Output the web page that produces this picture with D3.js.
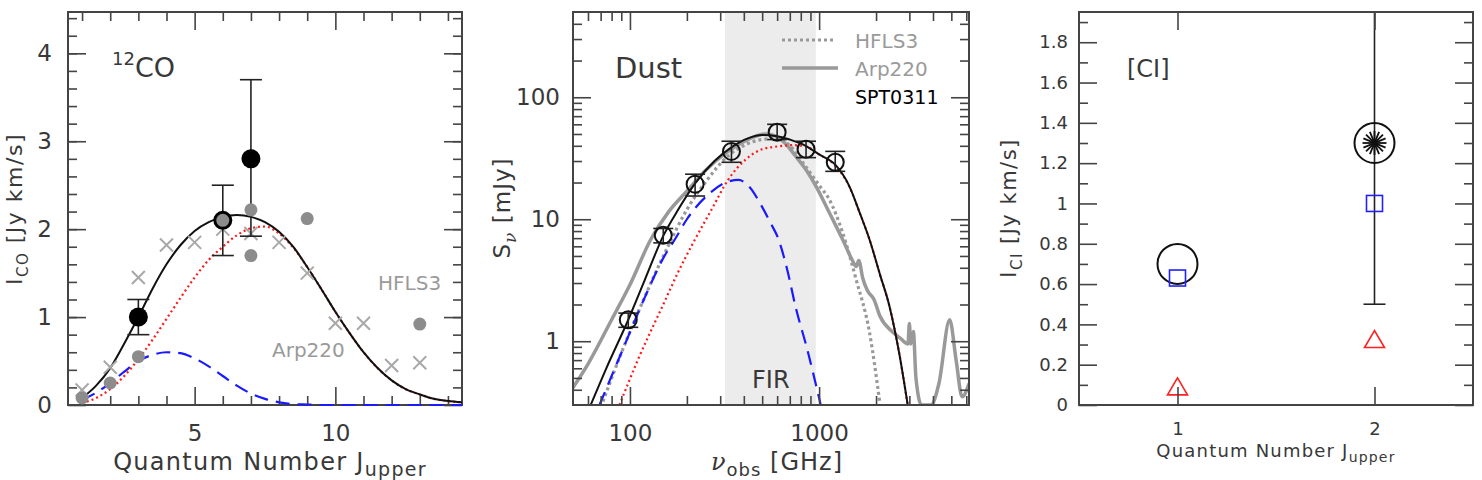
<!DOCTYPE html>
<html>
<head>
<meta charset="utf-8">
<script src="https://cdn.jsdelivr.net/npm/d3@7/dist/d3.min.js"></script>
<style>
  body { margin: 0; background: #fff; }
  text { font-family: "DejaVu Sans", sans-serif; fill: #383838; }
</style>
</head>
<body>
<script>
// ---------- panel 1 : 12CO SLED ----------
var coSptJ = [3, 6, 7];
var coSpt = [1.0, 2.1, 2.8];
var coSptLo = [0.8, 1.7, 1.92];
var coSptHi = [1.2, 2.5, 3.7];
var coHflsJ = [1, 2, 3, 6, 7, 7, 9, 13];
var coHfls = [0.08, 0.25, 0.55, 2.1, 2.22, 1.7, 2.12, 0.92];
var coArpJ = [1, 2, 3, 4, 5, 6, 7, 8, 9, 10, 11, 12, 13];
var coArp = [0.17, 0.43, 1.45, 1.82, 1.85, 2.0, 1.95, 1.85, 1.5, 0.93, 0.93, 0.45, 0.48];
var modelJ = [1, 1.5, 2, 2.5, 3, 3.5, 4, 4.5, 5, 5.5, 6, 6.5, 7, 7.5, 8, 8.5, 9, 9.5, 10, 10.5, 11, 11.5, 12, 12.5, 13, 13.5, 14, 14.5];
var coTotal = [0.08, 0.22, 0.42, 0.7, 1.0, 1.32, 1.6, 1.82, 1.98, 2.08, 2.14, 2.16, 2.14, 2.08, 1.97, 1.8, 1.57, 1.32, 1.06, 0.82, 0.6, 0.42, 0.28, 0.18, 0.12, 0.07, 0.045, 0.03];
var coWarm = [0.02, 0.08, 0.18, 0.33, 0.52, 0.74, 0.98, 1.22, 1.45, 1.65, 1.8, 1.93, 2.01, 2.03, 1.95, 1.79, 1.57, 1.32, 1.06, 0.82, 0.6, 0.42, 0.28, 0.18, 0.12, 0.07, 0.045, 0.03];
var coCold = [0.06, 0.14, 0.25, 0.38, 0.5, 0.57, 0.6, 0.59, 0.53, 0.44, 0.33, 0.22, 0.13, 0.07, 0.03, 0.01, 0.005, 0, 0, 0, 0, 0, 0, 0, 0, 0, 0, 0];

// ---------- panel 2 : dust SED ----------
var dustNu = [98, 150, 221, 344, 600, 853, 1217];
var dustS = [1.5, 7.4, 19.4, 36, 51.6, 37.5, 29.3];
var dustLo = [1.3, 6.4, 15.5, 29.3, 45, 32, 24.7];
var dustHi = [1.7, 8.4, 23.4, 43.6, 60, 43.6, 36];
var fitNu = [62, 75, 98, 120, 150, 180, 220, 280, 345, 420, 500, 600, 700, 850, 1000, 1217, 1444, 1650, 1845, 2100, 2356, 2650, 2940];
var fitS = [0.3, 0.6, 1.5, 3.2, 7.3, 12, 19.5, 30, 39, 46, 49, 48, 45, 40, 34, 28, 18.7, 11, 6.85, 3.5, 1.93, 0.8, 0.3];
var warmNu = [88, 110, 150, 180, 221, 270, 330, 410, 500, 610, 720, 850, 1000, 1217, 1444, 1650, 1845, 2100, 2356, 2650, 2940];
var warmS = [0.3, 0.7, 2.0, 3.7, 6.85, 12, 21, 31, 37.5, 39.6, 40.5, 39.6, 34, 27.5, 18.5, 11, 6.85, 3.5, 1.93, 0.8, 0.3];
var coldNu = [69, 90, 120, 150, 173, 200, 260, 320, 375, 424, 497, 550, 610, 680, 750, 865, 1020];
var coldS = [0.3, 0.8, 2.3, 4.8, 6.85, 10, 16, 20, 21, 18.7, 12.8, 9.5, 6.85, 3.8, 1.93, 0.86, 0.3];
var hflsNu = [72, 90, 110, 159, 200, 250, 330, 410, 497, 610, 700, 850, 1000, 1130, 1330, 1570, 1845, 2090];
var hflsS = [0.32, 0.8, 1.7, 6, 12, 20, 33, 41, 45, 46, 40, 27, 19, 14.6, 7.8, 3.2, 1.19, 0.32];
var arpNu = [48, 60, 80, 100, 129, 160, 200, 250, 330, 420, 520, 590, 680, 750, 860, 962, 1130, 1330, 1500, 1570, 1620, 1700, 1800, 1950, 2100, 2430, 2700, 2950, 3000, 3050, 3150, 3250, 3480, 3900, 4300, 4900, 5300, 5700, 6200];
var arpS = [0.38, 0.65, 1.5, 2.9, 6.85, 11.5, 17, 25, 36, 45, 50, 48, 40, 33, 25, 18.7, 11.4, 6.85, 4.6, 4.1, 4.6, 3.3, 2.6, 2.2, 1.6, 1.2, 1.05, 0.95, 1.4, 0.95, 1.2, 0.5, 0.3, 0.3, 0.45, 1.5, 0.7, 0.35, 0.45];
var firBand = [318, 960];

// ---------- panel 3 : [CI] ----------
var ciJ = [1, 2];
var ciSpt = [0.7, 1.3];
var ciSptLo = [null, 0.5];
var ciSptHi = [null, 2.1];
var ciBlue = [0.63, 1.0];
var ciRed = [0.085, 0.32];

var svg = d3.select("body").append("svg").attr("width", 1482).attr("height", 480);
var ink = "#444";
var grey = "#9a9a9a";

function frame(g, x, y, w, h, xMaj, xMin, yMaj, yMin) {  // box with inward ticks on all sides
    var sides = [
        [d3.axisBottom, x, 0, h, xMaj, xMin],
        [d3.axisTop, x, 0, 0, xMaj, xMin],
        [d3.axisLeft, y, 0, 0, yMaj, yMin],
        [d3.axisRight, y, w, 0, yMaj, yMin]
    ];
    sides.forEach(function (s) {
        [[s[4], 18], [s[5], 9]].forEach(function (t) {
            var a = g.append("g")
                .attr("transform", "translate(" + s[2] + "," + s[3] + ")")
                .call(s[0](s[1]).tickValues(t[0]).tickSize(-t[1]).tickSizeOuter(0).tickFormat(""));
            a.select(".domain").remove();
            a.selectAll("line").attr("stroke", ink).attr("stroke-width", 1.6);
        });
    });
    g.append("rect").attr("width", w).attr("height", h)
        .attr("fill", "none").attr("stroke", ink).attr("stroke-width", 2);
}

function labels(g, axis, tx, ty, size) {  // tick labels only
    var a = g.append("g").attr("transform", "translate(" + tx + "," + ty + ")").call(axis.tickSize(0));
    a.select(".domain").remove();
    a.selectAll("text").attr("font-size", size).attr("font-family", "DejaVu Sans").attr("fill", "#383838");
}

function errBars(g, xs, lo, hi, cap) {
    var gg = g.append("g").attr("stroke", "#222").attr("stroke-width", 1.6);
    xs.forEach(function (xv, i) {
        if (lo[i] == null) return;
        gg.append("line").attr("x1", xv).attr("x2", xv).attr("y1", lo[i]).attr("y2", hi[i]);
        [lo[i], hi[i]].forEach(function (yv) {
            gg.append("line").attr("x1", xv - cap).attr("x2", xv + cap).attr("y1", yv).attr("y2", yv);
        });
    });
}

// ================= panel 1 =================
var w1 = 394, h1 = 393;
var g1 = svg.append("g").attr("transform", "translate(68,12)");
var x1 = d3.scaleLinear().domain([0.5, 14.5]).range([0, w1]);
var y1 = d3.scaleLinear().domain([0, 4.47]).range([h1, 0]);
g1.append("clipPath").attr("id", "c1").append("rect").attr("y", -2).attr("width", w1).attr("height", h1 + 4);

// box first, so the flat blue model stays visible on the J axis
frame(g1, x1, y1, w1, h1, [5, 10], d3.range(1, 15).filter(function (d) { return d % 5; }),
    d3.range(0, 5), d3.range(0.2, 4.45, 0.2));
labels(g1, d3.axisBottom(x1).tickValues([5, 10]).tickFormat(d3.format("d")).tickPadding(20), 0, h1, 23);
labels(g1, d3.axisLeft(y1).tickValues([0, 1, 2, 3, 4]).tickFormat(d3.format("d")).tickPadding(16), 0, 0, 23);

var line1 = function (ys) {
    return d3.line().x(function (d, i) { return x1(modelJ[i]); }).y(function (d) { return y1(d); })
        .curve(d3.curveMonotoneX)(ys);
};
var cg1 = g1.append("g").attr("clip-path", "url(#c1)");
cg1.append("path").attr("d", line1(coCold)).attr("fill", "none").attr("stroke", "#1a1aff")
    .attr("stroke-width", 2.2).attr("stroke-dasharray", "14,8");
cg1.append("path").attr("d", line1(coWarm)).attr("fill", "none").attr("stroke", "#ff1a1a")
    .attr("stroke-width", 2.2).attr("stroke-dasharray", "2,3");
cg1.append("path").attr("d", line1(coTotal)).attr("fill", "none").attr("stroke", "#111").attr("stroke-width", 2);

// Arp220 crosses
cg1.selectAll(".arpx").data(coArpJ).enter().append("path")
    .attr("d", function (d, i) {
        var cx = x1(d), cy = y1(coArp[i]), r = 6.5;
        return "M" + (cx - r) + "," + (cy - r) + "L" + (cx + r) + "," + (cy + r) +
            "M" + (cx - r) + "," + (cy + r) + "L" + (cx + r) + "," + (cy - r);
    })
    .attr("stroke", "#a8a8a8").attr("stroke-width", 2).attr("fill", "none");

// SPT0311 points
errBars(g1, coSptJ.map(x1), coSptLo.map(y1), coSptHi.map(y1), 11);
g1.selectAll(".spt").data(coSptJ).enter().append("circle")
    .attr("cx", function (d) { return x1(d); }).attr("cy", function (d, i) { return y1(coSpt[i]); })
    .attr("r", 9.5).attr("fill", "#000");
// HFLS3 points, drawn over SPT0311
g1.append("g").attr("clip-path", "url(#c1)").selectAll(".hfls").data(coHflsJ).enter().append("circle")
    .attr("cx", function (d) { return x1(d); }).attr("cy", function (d, i) { return y1(coHfls[i]); })
    .attr("r", 6.5).attr("fill", "#8c8c8c");

var t = g1.append("text").attr("x", 44).attr("y", 65).attr("font-size", 27);
t.append("tspan").attr("font-size", 18).attr("dy", -12).text("12");
t.append("tspan").attr("dy", 12).text("CO");
g1.append("text").attr("x", 310).attr("y", 278).attr("font-size", 20).style("fill", grey).text("HFLS3");
g1.append("text").attr("x", 204).attr("y", 345).attr("font-size", 20).style("fill", grey).text("Arp220");

var xl1 = svg.append("text").attr("x", 270).attr("y", 470).attr("text-anchor", "middle")
    .attr("font-size", 24).attr("letter-spacing", 1.3);
xl1.append("tspan").text("Quantum Number J");
xl1.append("tspan").attr("font-size", 19).attr("dy", 6).text("upper");
var yl1 = svg.append("text").attr("transform", "translate(22,209) rotate(-90)").attr("text-anchor", "middle")
    .attr("font-size", 22).attr("letter-spacing", 1.5);
yl1.append("tspan").text("I");
yl1.append("tspan").attr("font-size", 15).attr("dy", 6).text("CO");
yl1.append("tspan").attr("dy", -6).text(" [Jy km/s]");

// ================= panel 2 =================
var w2 = 396, h2 = 393;
var g2 = svg.append("g").attr("transform", "translate(573,12)");
var x2 = d3.scaleLog().domain([50, 6200]).range([0, w2]);
var y2 = d3.scaleLog().domain([0.3, 500]).range([h2, 0]);
g2.append("clipPath").attr("id", "c2").append("rect").attr("width", w2).attr("height", h2);

g2.append("rect").attr("x", x2(firBand[0])).attr("width", x2(firBand[1]) - x2(firBand[0]))
    .attr("height", h2).attr("fill", "#ececec");

var line2 = function (xs, ys) {
    return d3.line().x(function (d, i) { return x2(xs[i]); }).y(function (d) { return y2(d); })
        .curve(d3.curveMonotoneX)(ys);
};
var cg2 = g2.append("g").attr("clip-path", "url(#c2)");
cg2.append("path").attr("d", line2(arpNu, arpS)).attr("fill", "none").attr("stroke", "#999")
    .attr("stroke-width", 3.5).attr("stroke-linejoin", "round");
cg2.append("path").attr("d", line2(hflsNu, hflsS)).attr("fill", "none").attr("stroke", "#999")
    .attr("stroke-width", 3.2).attr("stroke-dasharray", "3,3");
cg2.append("path").attr("d", line2(coldNu, coldS)).attr("fill", "none").attr("stroke", "#1a1aff")
    .attr("stroke-width", 2.2).attr("stroke-dasharray", "14,8");
cg2.append("path").attr("d", line2(warmNu, warmS)).attr("fill", "none").attr("stroke", "#ff1a1a")
    .attr("stroke-width", 2.2).attr("stroke-dasharray", "2,3");
cg2.append("path").attr("d", line2(fitNu, fitS)).attr("fill", "none").attr("stroke", "#111").attr("stroke-width", 2);

errBars(g2, dustNu.map(x2), dustLo.map(y2), dustHi.map(y2), 10);
g2.selectAll(".dust").data(dustNu).enter().append("circle")
    .attr("cx", function (d) { return x2(d); }).attr("cy", function (d, i) { return y2(dustS[i]); })
    .attr("r", 8.5).attr("fill", "none").attr("stroke", "#111").attr("stroke-width", 2);

var xMin2 = [60, 70, 80, 90, 200, 300, 400, 500, 600, 700, 800, 900, 2000, 3000, 4000, 5000, 6000];
var yMin2 = [0.4, 0.5, 0.6, 0.7, 0.8, 0.9, 2, 3, 4, 5, 6, 7, 8, 9, 20, 30, 40, 50, 60, 70, 80, 90, 200, 300, 400];
frame(g2, x2, y2, w2, h2, [100, 1000], xMin2, [1, 10, 100], yMin2);
labels(g2, d3.axisBottom(x2).tickValues([100, 1000]).tickFormat(d3.format("d")).tickPadding(20), 0, h2, 23);
labels(g2, d3.axisLeft(y2).tickValues([1, 10, 100]).tickFormat(d3.format("d")).tickPadding(13), 0, 0, 23);

g2.append("text").attr("x", 42).attr("y", 66).attr("font-size", 29).text("Dust");
g2.append("text").attr("x", 179).attr("y", 376).attr("font-size", 24).text("FIR");
// legend
g2.append("line").attr("x1", 209).attr("x2", 262).attr("y1", 28).attr("y2", 28)
    .attr("stroke", "#999").attr("stroke-width", 3.2).attr("stroke-dasharray", "3,3");
g2.append("line").attr("x1", 209).attr("x2", 265).attr("y1", 56).attr("y2", 56)
    .attr("stroke", "#999").attr("stroke-width", 3.5);
g2.append("text").attr("x", 282).attr("y", 36).attr("font-size", 20).style("fill", grey).text("HFLS3");
g2.append("text").attr("x", 282).attr("y", 64).attr("font-size", 20).style("fill", grey).text("Arp220");
g2.append("text").attr("x", 282).attr("y", 92).attr("font-size", 19).style("fill", "#000").text("SPT0311");

var xl2 = svg.append("text").attr("x", 777).attr("y", 470).attr("text-anchor", "middle").attr("font-size", 24)
    .attr("letter-spacing", 1);
xl2.append("tspan").attr("font-family", "DejaVu Serif").attr("font-style", "italic").text("ν");
xl2.append("tspan").attr("font-size", 18).attr("dy", 6).text("obs");
xl2.append("tspan").attr("dy", -6).text(" [GHz]");
var yl2 = svg.append("text").attr("transform", "translate(510,208) rotate(-90)").attr("text-anchor", "middle")
    .attr("font-size", 23).attr("letter-spacing", 1);
yl2.append("tspan").text("S");
yl2.append("tspan").attr("font-size", 17).attr("dy", 6).attr("font-family", "DejaVu Serif").attr("font-style", "italic").text("ν");
yl2.append("tspan").attr("dy", -6).text(" [mJy]");

// ================= panel 3 =================
var w3 = 394, h3 = 393;
var g3 = svg.append("g").attr("transform", "translate(1079,12)");
var x3 = d3.scaleLinear().domain([0.5, 2.5]).range([0, w3]);
var y3 = d3.scaleLinear().domain([0, 1.95]).range([h3, 0]);
g3.append("clipPath").attr("id", "c3").append("rect").attr("width", w3).attr("height", h3);

var cg3 = g3.append("g").attr("clip-path", "url(#c3)");
errBars(cg3, ciJ.map(x3), ciSptLo.map(function (d) { return d == null ? null : y3(d); }),
    ciSptHi.map(function (d) { return d == null ? null : y3(d); }), 11);
g3.selectAll(".ci").data(ciJ).enter().append("circle")
    .attr("cx", function (d) { return x3(d); }).attr("cy", function (d, i) { return y3(ciSpt[i]); })
    .attr("r", 20).attr("fill", "none").attr("stroke", "#111").attr("stroke-width", 2);
// asterisk on the J=2 point
var star = g3.append("g").attr("transform", "translate(" + x3(ciJ[1]) + "," + y3(ciSpt[1]) + ")");
d3.range(0, 180, 22.5).forEach(function (a) {
    var r = 12, c = Math.cos(a * Math.PI / 180) * r, s = Math.sin(a * Math.PI / 180) * r;
    star.append("line").attr("x1", -c).attr("y1", -s).attr("x2", c).attr("y2", s)
        .attr("stroke", "#111").attr("stroke-width", 1.8);
});
g3.selectAll(".sq").data(ciJ).enter().append("rect")
    .attr("x", function (d) { return x3(d) - 8; }).attr("y", function (d, i) { return y3(ciBlue[i]) - 8; })
    .attr("width", 16).attr("height", 16).attr("fill", "none").attr("stroke", "#2020ff").attr("stroke-width", 1.6);
g3.selectAll(".tri").data(ciJ).enter().append("path")
    .attr("d", function (d, i) {
        var cx = x3(d), cy = y3(ciRed[i]);
        return "M" + (cx - 10) + "," + (cy + 7) + "L" + (cx + 10) + "," + (cy + 7) + "L" + cx + "," + (cy - 10) + "Z";
    })
    .attr("fill", "none").attr("stroke", "#ff2020").attr("stroke-width", 1.6);

frame(g3, x3, y3, w3, h3, [1, 2], [], d3.range(0, 1.95, 0.2), d3.range(0.1, 1.95, 0.2));
labels(g3, d3.axisBottom(x3).tickValues([1, 2]).tickFormat(d3.format("d")).tickPadding(17), 0, h3, 18);
labels(g3, d3.axisLeft(y3).tickValues([0, 0.2, 0.4, 0.6, 0.8, 1, 1.2, 1.4, 1.6, 1.8]).tickFormat(d3.format("~g")).tickPadding(11), 0, 0, 18);

g3.append("text").attr("x", 48).attr("y", 65).attr("font-size", 24).text("[CI]");

var xl3 = svg.append("text").attr("x", 1276).attr("y", 457).attr("text-anchor", "middle")
    .attr("font-size", 18).attr("letter-spacing", 1.2);
xl3.append("tspan").text("Quantum Number J");
xl3.append("tspan").attr("font-size", 14).attr("dy", 5).text("upper");
var yl3 = svg.append("text").attr("transform", "translate(1016,208) rotate(-90)").attr("text-anchor", "middle")
    .attr("font-size", 21).attr("letter-spacing", 1.5);
yl3.append("tspan").text("I");
yl3.append("tspan").attr("font-size", 15).attr("dy", 6).text("CI");
yl3.append("tspan").attr("dy", -6).text(" [Jy km/s]");
</script>
</body>
</html>
